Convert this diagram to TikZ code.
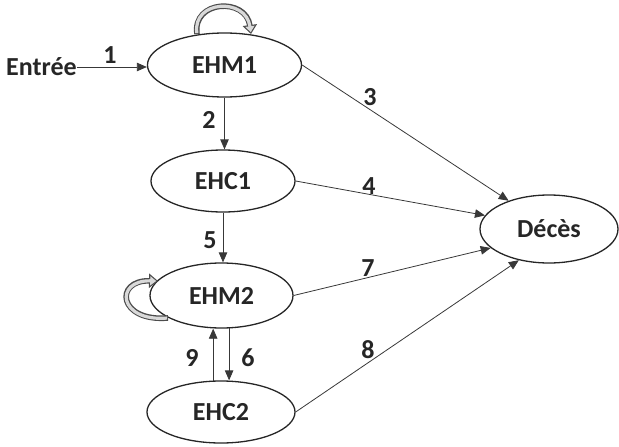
\documentclass[tikz,border=0pt]{standalone}
\usepackage{fontspec}
\setmainfont{Carlito}
\usetikzlibrary{arrows.meta,shapes.geometric}
\begin{document}
\begin{tikzpicture}[x=1pt,y=-1pt,
  txt/.style={font=\fontsize{26}{26}\selectfont\bfseries, text=black!85},
  state/.style={ellipse, draw=black!85, line width=1.3pt, inner sep=0pt, txt},
  conn/.style={draw=black!78, line width=0.8pt, -{Triangle[length=10pt,width=8.5pt]}},
  lab/.style={txt, inner sep=0pt},
  loopout/.style={line width=5.6pt, black!70, -{Triangle[length=9pt,width=14pt]}},
  loopin/.style={line width=3.2pt, gray!30, shorten >=1.8pt, shorten <=0.9pt, -{Triangle[length=6pt,width=9pt]}},
]
\useasboundingbox (0,0) rectangle (619,447);
% states
\node[state, minimum width=154pt, minimum height=64pt] (EHM1) at (224.5,65) {EHM1};
\node[state, minimum width=144pt, minimum height=62pt] (EHC1) at (223,181) {EHC1};
\node[state, minimum width=143pt, minimum height=65pt] (EHM2) at (221.5,295.5) {EHM2};
\node[state, minimum width=148pt, minimum height=62pt] (EHC2) at (221,412) {EHC2};
\node[state, minimum width=138pt, minimum height=68pt] (Deces) at (549,229) {Décès};
\node[lab, anchor=west] (Entree) at (6,67) {Entrée};
% connectors
\draw[conn] (Entree.east) -- (Entree.east -| EHM1.west);
\draw[conn] (EHM1.south) -- (EHM1.south |- EHC1.north);
\draw[conn] (EHC1.south) -- (EHC1.south |- EHM2.north);
\draw[conn] (EHM2.283) -- (EHM2.283 |- EHC2.north);
\draw[conn] (EHC2.104) -- (EHC2.104 |- EHM2.south);
\draw[conn] (EHM1.east) -- (Deces.145);
\draw[conn] (EHC1.east) -- (Deces.168);
\draw[conn] (EHM2.east) -- (Deces.198);
\draw[conn] (EHC2.east) -- (Deces.226);
% self loops
\draw[loopout] (197,34) .. controls (192,0) and (246,-3) .. (251,34);
\draw[loopin]  (197,34) .. controls (192,0) and (246,-3) .. (251,34);
\draw[loopout] (168,318) .. controls (118,322) and (114,280) .. (158,281);
\draw[loopin]  (168,318) .. controls (118,322) and (114,280) .. (158,281);
% labels
\node[lab] (l1) at (110,55) {1};
\node[lab] (l2) at (209,120) {2};
\node[lab] (l3) at (370,97) {3};
\node[lab] (l4) at (369,186) {4};
\node[lab] (l5) at (210,240) {5};
\node[lab] (l6) at (248,358) {6};
\node[lab] (l7) at (368,268) {7};
\node[lab] (l8) at (368,350) {8};
\node[lab] (l9) at (192,358) {9};
\end{tikzpicture}
\end{document}
